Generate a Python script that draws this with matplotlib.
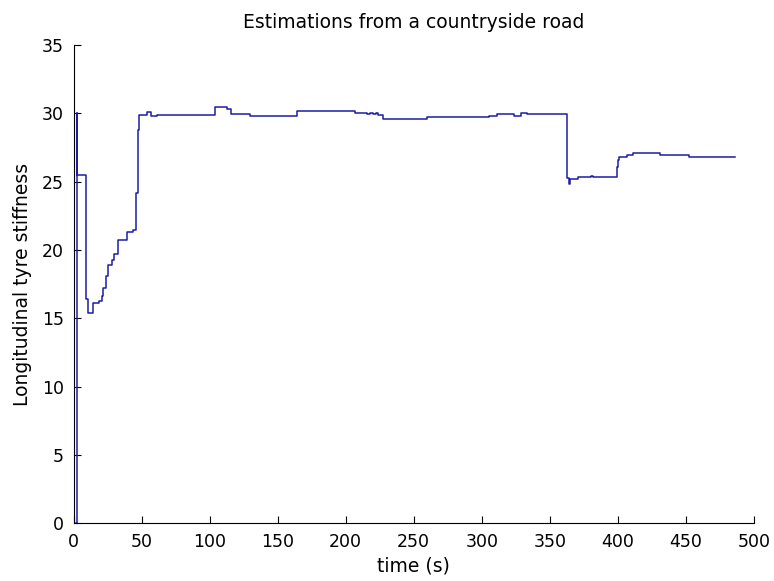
import matplotlib.pyplot as plt

# stiffness estimate, piecewise constant (value holds from t until next t)
t = [2.0, 2.3, 2.5, 9.0, 10.4, 14.1, 19.0, 20.7, 22.0, 23.5, 25.5, 28.5,
     30.0, 32.5, 39.6, 44.0, 46.0, 47.2, 48.2, 54.0, 57.0, 61.6, 104.0,
     112.6, 116.0, 129.7, 164.0, 207.0, 215.7, 218.0, 220.0, 222.0, 224.0,
     227.7, 259.5, 305.0, 311.0, 324.0, 329.0, 333.0, 362.4, 364.0, 364.6,
     371.0, 380.0, 381.5, 399.2, 400.0, 401.0, 406.5, 411.0, 431.0, 452.0,
     486.0]
k = [0.0, 30.0, 25.5, 16.4, 15.4, 16.1, 16.3, 16.6, 17.2, 18.1, 18.9, 19.3,
     19.7, 20.7, 21.3, 21.5, 24.2, 28.8, 29.9, 30.1, 29.8, 29.9, 30.45,
     30.3, 29.95, 29.8, 30.2, 30.05, 29.95, 30.05, 29.95, 30.05, 29.9,
     29.6, 29.7, 29.8, 29.95, 29.8, 30.0, 29.95, 25.25, 24.8, 25.2,
     25.35, 25.45, 25.35, 26.1, 26.6, 26.84, 26.96, 27.08, 26.96, 26.84,
     26.84]

plt.rcParams['font.family'] = ['DejaVu Sans']

fig = plt.figure(figsize=(7.74, 5.81), dpi=100)
ax = fig.add_axes([0.095, 0.0993, 0.879, 0.8232])

ax.plot(t, k, drawstyle='steps-post', color='#1c1ca8', linewidth=1.1)

ax.set_xlim(0, 500)
ax.set_ylim(0, 35)
ax.set_xticks(range(0, 501, 50))
ax.set_yticks(range(0, 36, 5))
ax.spines['top'].set_visible(False)
ax.spines['right'].set_visible(False)
ax.tick_params(direction='in', length=5, labelsize=12.5, pad=7)

ax.set_title('Estimations from a countryside road', fontsize=13.5, pad=12)
ax.set_xlabel('time (s)', fontsize=13.5, labelpad=4)
ax.set_ylabel('Longitudinal tyre stiffness', fontsize=13.5, labelpad=7)

fig.savefig('out.png', dpi=100)
